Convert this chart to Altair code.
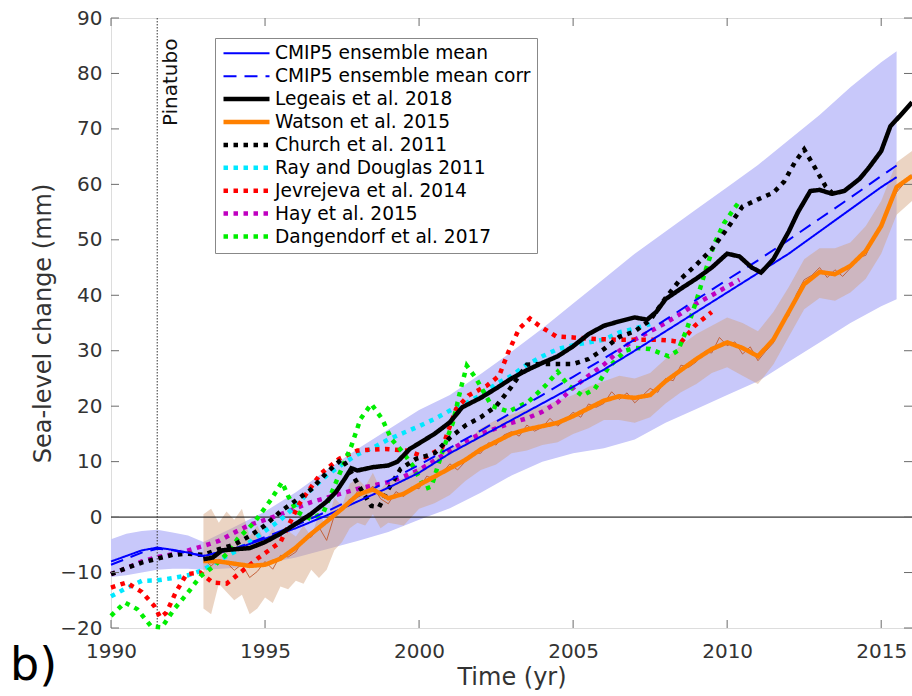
import altair as alt
import pandas as pd

# ---------------- data ----------------
x_ticks = [1990, 1995, 2000, 2005, 2010, 2015]
y_ticks = [-20, -10, 0, 10, 20, 30, 40, 50, 60, 70, 80, 90]

cmip_years = [1990.0, 1990.5, 1991.0, 1991.5, 1992.0, 1992.5, 1993.0, 1994.0, 1995.0, 1996.0,
              1997.0, 1998.0, 1999.0, 2000.0, 2001.0, 2002.0, 2003.0, 2004.0, 2005.0, 2006.0,
              2007.0, 2008.0, 2009.0, 2010.0, 2011.0, 2012.0, 2013.0, 2014.0, 2015.0, 2015.5]
cmip_mean = [-8.0, -7.0, -6.0, -5.5, -5.9, -6.4, -7.0, -5.8, -3.9, -2.0,
             0.3, 2.8, 5.3, 8.0, 11.5, 14.5, 17.5, 20.5, 23.5, 26.6,
             30.0, 33.5, 37.0, 40.5, 44.0, 47.5, 51.5, 55.5, 59.5, 61.3]
cmip_corr = [-8.6, -7.5, -6.4, -5.7, -6.0, -6.5, -7.0, -5.7, -3.6, -1.5,
             1.0, 3.7, 6.5, 9.4, 12.5, 15.6, 18.8, 22.0, 25.3, 28.6,
             32.0, 35.6, 39.2, 42.8, 46.3, 50.0, 53.8, 57.6, 61.5, 63.4]
cmip_lo = [-10.8, -10.5, -10.0, -9.5, -9.3, -9.3, -9.5, -9.2, -8.4, -7.3,
           -5.8, -4.3, -2.7, -0.5, 1.6, 4.4, 7.5, 10.0, 11.5, 12.4,
           14.0, 17.0, 19.5, 22.0, 24.5, 28.0, 31.5, 35.0, 38.0, 39.3]
cmip_hi = [-4.0, -3.0, -2.5, -2.3, -2.8, -3.3, -4.5, -1.8, 1.0, 4.5,
           8.5, 12.3, 15.8, 19.3, 22.0, 25.8, 29.8, 34.0, 38.5, 43.0,
           47.5, 51.5, 55.5, 59.5, 63.5, 68.0, 72.5, 77.5, 82.0, 84.0]

leg_years = [1993.0, 1993.3, 1993.6, 1994.0, 1994.5, 1995.0, 1995.5, 1996.0, 1996.5, 1997.0,
             1997.3, 1997.6, 1997.8, 1998.0, 1998.5, 1999.0, 1999.3, 1999.7, 2000.0, 2000.5,
             2001.0, 2001.4, 2002.0, 2002.5, 2003.0, 2003.5, 2004.0, 2004.5, 2005.0, 2005.5,
             2006.0, 2006.5, 2007.0, 2007.4, 2007.7, 2008.0, 2008.5, 2009.0, 2009.5, 2010.0,
             2010.4, 2010.8, 2011.1, 2011.5, 2012.0, 2012.3, 2012.7, 2013.0, 2013.4, 2013.8,
             2014.3, 2014.6, 2015.0, 2015.3, 2015.6, 2016.0]
leg_vals = [-7.6, -7.3, -6.0, -5.8, -5.6, -4.5, -3.0, -1.2, 0.6, 2.8,
            4.5, 7.0, 8.8, 8.4, 9.0, 9.3, 10.0, 12.3, 13.3, 15.0,
            17.1, 19.8, 21.5, 23.2, 25.0, 26.5, 27.8, 29.0, 30.8, 33.0,
            34.5, 35.3, 36.0, 35.6, 37.0, 39.3, 41.2, 43.0, 45.0, 47.5,
            47.0, 45.0, 44.1, 46.5, 51.5, 55.0, 58.8, 59.0, 58.3, 58.8,
            61.0, 63.0, 66.0, 70.5, 72.3, 74.8]

wat_years = [1993.0, 1993.5, 1994.0, 1994.5, 1995.0, 1995.5, 1996.0, 1996.5, 1997.0, 1997.5,
             1998.0, 1998.5, 1999.0, 1999.5, 2000.0, 2000.5, 2001.0, 2001.5, 2002.0, 2002.5,
             2003.0, 2003.5, 2004.0, 2004.5, 2005.0, 2005.5, 2006.0, 2006.5, 2007.0, 2007.5,
             2008.0, 2008.5, 2009.0, 2009.5, 2010.0, 2010.5, 2011.0, 2011.5, 2012.0, 2012.5,
             2013.0, 2013.5, 2014.0, 2014.5, 2015.0, 2015.5, 2016.0]
wat_vals = [-7.9, -8.0, -8.4, -8.8, -8.6, -7.5, -5.5, -3.0, -0.8, 1.5,
            4.0, 5.0, 3.4, 4.2, 5.8, 7.3, 8.8, 10.3, 12.2, 13.6,
            15.0, 15.8, 16.4, 17.0, 18.2, 19.6, 21.0, 21.8, 21.5, 22.0,
            24.5, 26.5, 28.5, 30.3, 31.5, 30.5, 29.0, 32.0, 37.0, 42.0,
            44.2, 43.8, 45.3, 48.0, 52.5, 59.5, 61.5]

watm_years = [1993.0, 1993.25, 1993.5, 1993.75, 1994.0, 1994.25, 1994.5, 1994.75,
              1995.0, 1995.25, 1995.5, 1995.75, 1996.0, 1996.25, 1996.5, 1996.75,
              1997.0, 1997.25, 1997.5, 1997.75, 1998.0, 1998.25, 1998.5, 1998.75,
              1999.0, 1999.25, 1999.5, 1999.75, 2000.0, 2000.25, 2000.5, 2000.75,
              2001.0, 2001.25, 2001.5, 2001.75, 2002.0, 2002.25, 2002.5, 2002.75,
              2003.0, 2003.25, 2003.5, 2003.75, 2004.0, 2004.25, 2004.5, 2004.75,
              2005.0, 2005.25, 2005.5, 2005.75, 2006.0, 2006.25, 2006.5, 2006.75,
              2007.0, 2007.25, 2007.5, 2007.75, 2008.0, 2008.25, 2008.5, 2008.75,
              2009.0, 2009.25, 2009.5, 2009.75, 2010.0, 2010.25, 2010.5, 2010.75,
              2011.0, 2011.25, 2011.5, 2011.75, 2012.0, 2012.25, 2012.5, 2012.75,
              2013.0, 2013.25, 2013.5, 2013.75, 2014.0, 2014.25, 2014.5, 2014.75,
              2015.0, 2015.25, 2015.5, 2015.75, 2016.0]
watm_vals = [-7.5, -8.8, -7.6, -8.2, -9.6, -8.5, -10.9, -9.8,
             -8.0, -9.4, -6.9, -7.2, -6.3, -4.0, -3.6, -1.8,
             -4.2, 0.3, 1.9, 2.5, 4.6, 4.2, 5.6, 3.3,
             2.4, 4.6, 3.7, 5.4, 5.1, 7.4, 6.8, 8.0,
             9.6, 8.5, 10.0, 11.6, 11.5, 13.4, 13.0, 14.8,
             15.4, 14.6, 16.6, 15.5, 16.2, 17.8, 16.4, 17.6,
             18.9, 18.0, 20.4, 19.8, 20.5, 22.6, 21.2, 22.4,
             20.6, 21.9, 23.2, 22.5, 25.0, 24.6, 27.4, 27.0,
             28.0, 29.8, 29.6, 32.4, 30.9, 31.6, 29.4, 30.7,
             28.2, 29.9, 31.4, 34.8, 36.3, 40.2, 42.8, 43.6,
             45.0, 43.2, 44.6, 43.4, 44.9, 46.8, 47.2, 50.3,
             52.0, 55.9, 58.6, 60.2, 61.8]

watb_years = [1993.0, 1993.25, 1993.5, 1993.75, 1994.0, 1994.25, 1994.5, 1994.75,
              1995.0, 1995.25, 1995.5, 1995.75, 1996.0, 1996.25, 1996.5, 1996.75,
              1997.0, 1997.25, 1997.5, 1997.75, 1998.0, 1998.25, 1998.5, 1998.75,
              1999.0, 1999.5, 2000.0, 2000.5, 2001.0, 2001.5, 2002.0, 2002.5,
              2003.0, 2003.5, 2004.0, 2004.5, 2005.0, 2005.5, 2006.0, 2006.5,
              2007.0, 2007.5, 2008.0, 2008.5, 2009.0, 2009.5, 2010.0, 2010.5,
              2011.0, 2011.5, 2012.0, 2012.5, 2013.0, 2013.5, 2014.0, 2014.5,
              2015.0, 2015.5, 2016.0]
watb_lo = [-16.5, -17.5, -12.0, -13.5, -15.0, -14.0, -17.5, -16.5,
           -14.5, -15.5, -12.5, -13.0, -11.5, -12.0, -9.5, -11.0,
           -9.5, -6.0, -4.5, -2.0, -1.0, -1.5, 0.5, -2.0,
           -1.0, -1.5, 1.5, 2.5, 4.0, 6.5, 8.5, 9.5,
           11.5, 12.0, 13.0, 13.5, 15.0, 16.0, 17.5, 17.5,
           17.0, 18.0, 20.5, 22.5, 24.0, 26.0, 27.0, 25.5,
           24.0, 27.5, 32.5, 37.5, 39.5, 39.0, 40.5, 43.0,
           47.5, 54.5, 57.0]
watb_hi = [0.5, 1.5, -1.0, 1.0, -0.5, 1.5, -3.5, -1.5,
           -4.5, -2.0, -4.0, -2.5, -3.5, -1.5, -3.5, 0.5,
           -1.5, 3.5, 2.0, 6.0, 7.0, 5.5, 8.0, 5.0,
           6.5, 7.0, 9.0, 10.5, 12.5, 13.5, 16.0, 17.5,
           18.5, 19.5, 20.0, 21.0, 22.0, 23.5, 24.5, 25.5,
           25.0, 26.0, 28.5, 31.0, 33.0, 34.5, 36.0, 35.0,
           33.5, 37.0, 41.5, 46.5, 48.5, 48.5, 49.5, 52.5,
           57.0, 64.0, 66.0]

ch_years = [1990.0, 1990.5, 1991.0, 1991.5, 1992.0, 1992.5, 1993.0, 1993.5, 1994.0, 1994.5,
            1995.0, 1995.5, 1996.0, 1996.5, 1997.0, 1997.5, 1997.8, 1998.05, 1998.45, 1998.7,
            1999.0, 1999.4, 1999.9, 2000.5, 2001.0, 2001.5, 2002.0, 2002.5, 2003.0, 2003.5,
            2004.0, 2004.5, 2005.0, 2005.5, 2006.0, 2006.5, 2007.0, 2007.5, 2008.0, 2008.5,
            2009.0, 2009.5, 2010.0, 2010.5, 2011.0, 2011.5, 2011.85, 2012.2, 2012.5, 2012.85,
            2013.2, 2013.4]
ch_vals = [-10.3, -9.2, -8.2, -7.5, -6.8, -6.6, -6.8, -5.8, -5.0, -3.4,
           -1.5, 1.0, 3.0, 5.0, 8.0, 10.5, 8.0, 5.6, 2.0, 1.8,
           5.0, 8.7, 10.5, 11.5, 14.3, 16.5, 18.0, 20.0, 23.5, 27.5,
           27.6, 27.6, 27.6, 28.5, 30.3, 32.5, 33.5, 35.5, 39.5, 43.0,
           45.5, 48.3, 52.0, 56.0, 57.3, 58.5, 60.5, 64.0, 66.3, 63.0,
           59.6, 58.5]

ray_years = [1990.0, 1990.5, 1991.0, 1991.5, 1992.0, 1992.5, 1993.0, 1993.5, 1994.0, 1994.5,
             1995.0, 1995.5, 1996.0, 1996.5, 1997.0, 1997.5, 1998.0, 1998.5, 1999.0, 1999.5,
             2000.0, 2000.5, 2001.0, 2001.5, 2002.0, 2002.5, 2003.0, 2003.5, 2004.0, 2004.5,
             2005.0, 2005.5, 2006.0, 2006.5, 2007.0, 2007.5]
ray_vals = [-14.3, -12.8, -11.5, -11.4, -11.0, -10.5, -9.5, -7.8, -6.3, -4.5,
            -2.5, -0.5, 2.0, 5.0, 7.5, 9.5, 11.3, 12.5, 14.0, 15.2,
            16.4, 17.7, 19.2, 20.5, 22.0, 24.0, 25.5, 27.5, 29.0, 30.3,
            31.0, 31.5, 32.0, 33.3, 34.0, 34.8]

jev_years = [1990.0, 1990.5, 1991.0, 1991.4, 1991.6, 1991.8, 1992.1, 1992.45, 1992.9, 1993.3,
             1993.75, 1994.2, 1994.8, 1995.5, 1996.1, 1996.8, 1997.4, 1998.0, 1998.9, 1999.6,
             2000.2, 2000.75, 2001.2, 2001.6, 2002.2, 2002.6, 2002.9, 2003.25, 2003.6, 2003.9,
             2004.45, 2005.0, 2005.7, 2006.4, 2007.0, 2007.7, 2008.2, 2008.5, 2008.95, 2009.5]
jev_vals = [-12.7, -11.8, -13.5, -16.0, -18.1, -17.2, -13.6, -10.3, -10.0, -11.8,
            -12.0, -10.0, -7.3, -4.5, 2.3, 7.8, 10.5, 12.0, 12.3, 12.0,
            10.8, 12.5, 19.5, 21.9, 23.7, 25.5, 29.8, 34.0, 35.8, 34.5,
            32.6, 32.4, 32.1, 32.0, 32.0, 32.0, 31.8, 31.5, 34.5, 37.0]

hay_years = [1990.0, 1990.5, 1991.0, 1991.5, 1992.0, 1992.5, 1993.0, 1993.5, 1994.0, 1994.5,
             1995.0, 1995.5, 1996.0, 1996.5, 1997.0, 1997.5, 1998.0, 1998.5, 1999.0, 1999.5,
             2000.0, 2000.5, 2001.0, 2001.5, 2002.0, 2002.5, 2003.0, 2003.5, 2004.0, 2004.5,
             2005.0, 2005.5, 2006.0, 2006.5, 2007.0, 2007.5, 2008.0, 2008.5, 2009.0, 2009.5,
             2010.0, 2010.4]
hay_vals = [-10.3, -9.2, -8.0, -7.2, -6.7, -6.0, -5.2, -4.3, -2.8, -1.4,
            -0.5, 0.5, 1.6, 2.7, 3.5, 4.3, 5.1, 5.7, 6.3, 7.3,
            8.5, 10.2, 12.0, 13.7, 15.0, 16.0, 17.0, 17.8, 19.0, 20.7,
            23.3, 25.5, 27.5, 30.0, 32.0, 33.5, 35.0, 36.7, 38.5, 40.0,
            41.6, 42.8]

dan_years = [1990.0, 1990.45, 1990.85, 1991.3, 1991.65, 1992.05, 1992.5, 1992.9, 1993.35, 1993.8,
             1994.1, 1994.66, 1995.2, 1995.55, 1995.75, 1996.05, 1996.5, 1996.9, 1997.35, 1997.8,
             1998.1, 1998.45, 1998.8, 1999.1, 1999.5, 1999.8, 2000.2, 2000.4, 2000.75, 2001.1,
             2001.35, 2001.55, 2001.85, 2002.35, 2002.9, 2003.55, 2004.1, 2004.5, 2004.85, 2005.3,
             2005.7, 2006.15, 2006.7, 2007.0, 2007.5, 2008.1, 2008.4, 2008.7, 2009.0, 2009.3,
             2009.6, 2009.9, 2010.25, 2010.45]
dan_vals = [-17.8, -15.4, -16.6, -19.7, -19.9, -16.6, -13.6, -10.7, -8.8, -6.4,
            -4.0, -0.9, 3.2, 6.3, 3.8, 0.9, -0.4, 0.9, 6.9, 12.8,
            17.7, 20.4, 17.7, 14.1, 11.5, 9.2, 5.1, 5.5, 11.7, 17.1,
            23.1, 27.3, 25.0, 20.1, 19.0, 20.8, 23.7, 26.2, 23.7, 21.9,
            23.1, 27.0, 30.0, 30.5, 30.3, 29.0, 30.0, 34.0, 39.0, 44.5,
            49.5, 53.0, 55.8, 57.3]

series_names = ["CMIP5 ensemble mean", "CMIP5 ensemble mean corr", "Legeais et al. 2018",
                "Watson et al. 2015", "Church et al. 2011", "Ray and Douglas 2011",
                "Jevrejeva et al. 2014", "Hay et al. 2015", "Dangendorf et al. 2017"]
series_colors = ["#0000ff", "#0000ff", "#000000", "#ff8000", "#000000", "#00e8ff",
                 "#ff0000", "#c000c0", "#00ee00"]
series_dash = [[1, 0], [13, 8], [1, 0], [1, 0], [4.5, 5.5], [4.5, 5.5],
               [4.5, 5.5], [4.5, 5.5], [4.5, 5.5]]
series_width = [2, 2, 4.5, 4.5, 4.5, 4.5, 4.5, 4.5, 4.5]

pinatubo_year = [1991.5]
pinatubo_label = ["Pinatubo"]
pinatubo_label_y = [86.3]
panel_label = ["b)"]
zero_level = [0]

# ---------------- tables ----------------
draw_order = [
    ("Hay et al. 2015", hay_years, hay_vals),
    ("Ray and Douglas 2011", ray_years, ray_vals),
    ("Jevrejeva et al. 2014", jev_years, jev_vals),
    ("Dangendorf et al. 2017", dan_years, dan_vals),
    ("Church et al. 2011", ch_years, ch_vals),
    ("CMIP5 ensemble mean", cmip_years, cmip_mean),
    ("CMIP5 ensemble mean corr", cmip_years, cmip_corr),
    ("Watson et al. 2015", wat_years, wat_vals),
    ("Legeais et al. 2018", leg_years, leg_vals),
]
rows = []
for name, ys, vs in draw_order:
    for yy, vv in zip(ys, vs):
        rows.append({"series": name, "year": yy, "val": vv})
lines_df = pd.DataFrame(rows)

cmip_band_df = pd.DataFrame({"year": cmip_years, "lo": cmip_lo, "hi": cmip_hi})
wat_band_df = pd.DataFrame({"year": watb_years, "lo": watb_lo, "hi": watb_hi})
wat_month_df = pd.DataFrame({"year": watm_years, "val": watm_vals})
xt_df = pd.DataFrame({"year": x_ticks})
yt_df = pd.DataFrame({"val": y_ticks})
pin_df = pd.DataFrame({"year": pinatubo_year, "val": pinatubo_label_y, "label": pinatubo_label})
zero_df = pd.DataFrame({"val": zero_level})
panel_df = pd.DataFrame({"label": panel_label})

# ---------------- chart ----------------
W, H = 801, 610
FONT = "DejaVu Sans"
GREY = "#6b6b6b"
TXT = "#333333"

x_scale = alt.Scale(domain=[1990, 2016], nice=False, zero=False)
y_scale = alt.Scale(domain=[-20, 90], nice=False, zero=False)
x_axis = alt.Axis(values=x_ticks, format="d", title="Time (yr)", labelFont=FONT, labelFontSize=20,
                  labelColor=TXT, labelPadding=13, labelFlush=False, ticks=False, domain=False,
                  grid=False, titleFont=FONT, titleFontSize=24, titleFontWeight="normal",
                  titleColor=TXT, titlePadding=4)
y_axis = alt.Axis(values=y_ticks, format="d", title="Sea-level change (mm)", labelFont=FONT,
                  labelFontSize=20, labelColor=TXT, labelPadding=9, labelFlush=False, ticks=False,
                  domain=False, grid=False, titleFont=FONT, titleFontSize=24,
                  titleFontWeight="normal", titleColor=TXT, titlePadding=4)

X = alt.X("year:Q", scale=x_scale, axis=x_axis)
Y = alt.Y("val:Q", scale=y_scale, axis=y_axis)

legend = alt.Legend(title=None, orient="none", legendX=104, legendY=20, symbolType="stroke",
                    symbolSize=2116, clipHeight=18.6, rowPadding=3.9, labelOffset=3,
                    labelFont=FONT, labelFontSize=18.6, labelColor="black", labelLimit=400,
                    padding=6, strokeColor="#888888", fillColor="white")

cmip_band = alt.Chart(cmip_band_df).mark_area(color="#c8c8fa", opacity=1).encode(
    x=X, y=alt.Y("lo:Q", scale=y_scale, axis=y_axis), y2="hi:Q")
wat_band = alt.Chart(wat_band_df).mark_area(color="#d2a07a", opacity=0.45).encode(
    x=X, y=alt.Y("lo:Q", scale=y_scale, axis=y_axis), y2="hi:Q")
wat_month = alt.Chart(wat_month_df).mark_line(color="#c4623a", strokeWidth=1).encode(x=X, y=Y)

zero_rule = alt.Chart(zero_df).mark_rule(color="black", strokeWidth=1).encode(y=Y)
pin_rule = alt.Chart(pin_df).mark_rule(color="#333333", strokeWidth=1, strokeDash=[1.5, 1.5]).encode(x=X)
pin_text = alt.Chart(pin_df).mark_text(angle=270, align="right", baseline="top", dy=4,
                                       fontSize=20, font=FONT, color="#111111").encode(
    x=X, y=Y, text="label:N")

lines = alt.Chart(lines_df).mark_line(strokeCap="butt").encode(
    x=X, y=Y,
    color=alt.Color("series:N", scale=alt.Scale(domain=series_names, range=series_colors), legend=legend),
    strokeDash=alt.StrokeDash("series:N", scale=alt.Scale(domain=series_names, range=series_dash), legend=legend),
    strokeWidth=alt.StrokeWidth("series:N", scale=alt.Scale(type="ordinal", domain=series_names, range=series_width), legend=legend),
)

tick_style = dict(color=GREY, strokeWidth=1)
t_bottom = alt.Chart(xt_df).mark_rule(**tick_style).encode(x=X, y=alt.value(H), y2=alt.value(H - 8))
t_top = alt.Chart(xt_df).mark_rule(**tick_style).encode(x=X, y=alt.value(0), y2=alt.value(8))
t_left = alt.Chart(yt_df).mark_rule(**tick_style).encode(y=Y, x=alt.value(0), x2=alt.value(8))
t_right = alt.Chart(yt_df).mark_rule(**tick_style).encode(y=Y, x=alt.value(W), x2=alt.value(W - 8))

panel = alt.Chart(panel_df).mark_text(fontSize=46, font=FONT, align="left", baseline="alphabetic",
                                      color="black").encode(
    x=alt.value(-101), y=alt.value(662), text="label:N")

chart = alt.layer(
    cmip_band, wat_band, wat_month, zero_rule, pin_rule, lines, pin_text,
    t_bottom, t_top, t_left, t_right, panel
).properties(
    width=W, height=H,
    padding={"left": 111, "top": 18, "right": 0, "bottom": 68},
    autosize=alt.AutoSizeParams(type="none"),
    background="white",
).configure_view(stroke=GREY, strokeWidth=1).configure(font=FONT)

chart.save("out.html", embed_options={"renderer": "svg", "actions": False})
